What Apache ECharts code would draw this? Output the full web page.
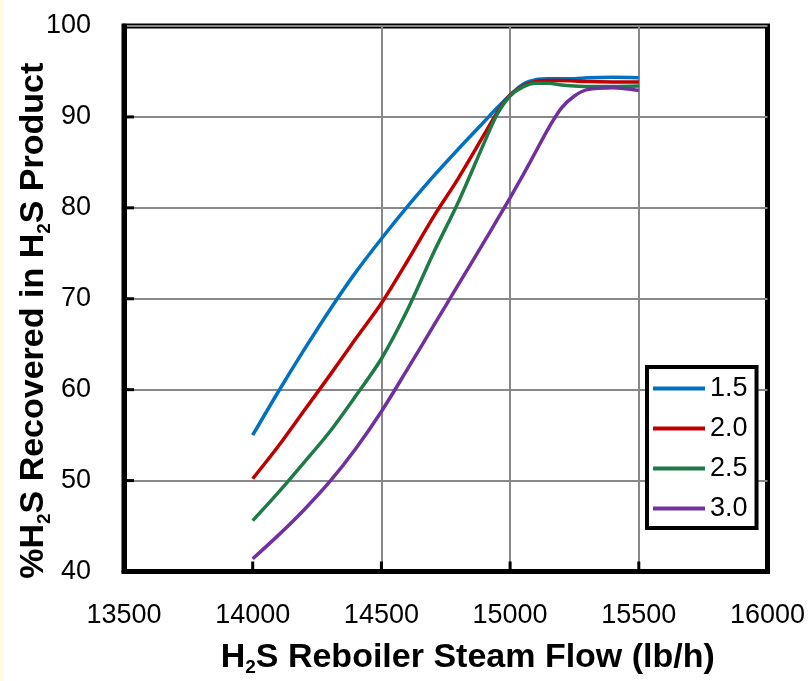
<!DOCTYPE html>
<html>
<head>
<meta charset="utf-8">
<script src="https://cdn.jsdelivr.net/npm/echarts@6/dist/echarts.min.js"></script>
<style>
  html, body { margin: 0; padding: 0; background: #fff; }
  #main { width: 812px; height: 681px; }
</style>
</head>
<body>
<div id="main"></div>
<script>
// steam flow (lb/h) where the curves were read
const flow = [14000, 14100, 14200, 14300, 14400, 14500, 14600, 14700, 14800, 14900,
  14950, 15000, 15050, 15100, 15150, 15200, 15250, 15300, 15400, 15500];

// % H2S recovered, one list per legend entry
const r15 = [55.0, 59.8, 64.4, 68.8, 72.9, 76.6, 80.1, 83.4, 86.5, 89.5,
  91.0, 92.4, 93.6, 94.1, 94.2, 94.2, 94.2, 94.3, 94.35, 94.3];
const r20 = [50.2, 53.8, 57.7, 61.6, 65.6, 69.5, 74.1, 78.9, 83.3, 88.1,
  90.5, 92.4, 93.4, 93.9, 94.0, 94.0, 93.95, 93.9, 93.85, 93.85];
const r25 = [45.6, 48.7, 52.0, 55.4, 59.3, 63.4, 68.7, 74.9, 80.7, 87.2,
  90.3, 92.3, 93.3, 93.7, 93.7, 93.5, 93.4, 93.35, 93.35, 93.4];
const r30 = [41.4, 44.0, 46.8, 49.9, 53.5, 57.6, 62.2, 66.9, 71.6, 76.3,
  78.7, 81.1, 83.6, 86.2, 88.8, 91.0, 92.3, 93.0, 93.2, 92.9];

const seriesNames = ['1.5', '2.0', '2.5', '3.0'];
const seriesColors = ['#0070C0', '#C00000', '#1E7B45', '#7030A0'];
const seriesValues = [r15, r20, r25, r30];

// inner tick marks on the bottom and left axes
const xTicks = [14000, 14500, 15000, 15500];
const yTicks = [50, 60, 70, 80, 90];

const chart = echarts.init(document.getElementById('main'));

const font = 'Liberation Sans, Arial, sans-serif';

// bold title text with a subscript "2"
const titleRich = {
  n: { fontFamily: font, fontSize: 34, fontWeight: 'bold', color: '#000', lineHeight: 40 },
  s: { fontFamily: font, fontSize: 19, fontWeight: 'bold', color: '#000', lineHeight: 19, verticalAlign: 'bottom' }
};

// [x, y, 0 = tick on x axis / 1 = tick on y axis]
const tickData = xTicks.map(v => [v, 40, 0]).concat(yTicks.map(v => [13500, v, 1]));

const lineSeries = seriesNames.map((name, i) => ({
  name: name,
  type: 'line',
  smooth: 0.3,
  symbol: 'none',
  color: seriesColors[i],
  lineStyle: { width: 3.5, color: seriesColors[i] },
  data: flow.map((x, j) => [x, seriesValues[i][j]])
}));

const option = {
  backgroundColor: '#fff',
  animation: false,
  graphic: [{
    type: 'rect',
    shape: { x: 0, y: 0, width: 4, height: 681 },
    style: { fill: '#fffbe3' }
  }],
  grid: {
    left: 124, right: 44.5, top: 26, bottom: 109.5,
    outerBoundsMode: 'none',
    containLabel: false,
    show: true,
    borderColor: '#000',
    borderWidth: 5,
    backgroundColor: 'transparent'
  },
  legend: {
    orient: 'vertical',
    left: 647,
    top: 367,
    padding: [8, 9, 6, 6],
    itemWidth: 52,
    itemHeight: 4,
    itemGap: 13,
    icon: 'rect',
    borderColor: '#000',
    borderWidth: 4,
    backgroundColor: '#fff',
    textStyle: { fontFamily: font, fontSize: 27, color: '#000', lineHeight: 26 },
    data: seriesNames
  },
  xAxis: {
    type: 'value',
    min: 13500,
    max: 16000,
    interval: 500,
    name: '{n|H}{s|2}{n|S Reboiler Steam Flow (lb/h)}',
    nameLocation: 'middle',
    nameGap: 66,
    nameMoveOverlap: false,
    nameTextStyle: { rich: titleRich, padding: [0, 0, 0, 44] },
    axisLine: { show: true, lineStyle: { color: '#000', width: 5 } },
    axisTick: { show: false },
    axisLabel: { fontFamily: font, fontSize: 27, color: '#000', margin: 31, formatter: v => String(v) },
    splitLine: {
      show: true,
      lineStyle: { color: ['transparent', 'transparent', '#888', '#888', '#888', 'transparent'], width: 2 }
    }
  },
  yAxis: {
    type: 'value',
    min: 40,
    max: 100,
    interval: 10,
    name: '{n|%H}{s|2}{n|S Recovered in H}{s|2}{n|S Product}',
    nameLocation: 'middle',
    nameGap: 70,
    nameMoveOverlap: false,
    nameTextStyle: { rich: titleRich, padding: [0, 44, 0, 0] },
    axisLine: { show: true, lineStyle: { color: '#000', width: 5 } },
    axisTick: { show: false },
    axisLabel: { fontFamily: font, fontSize: 27, color: '#000', margin: 33 },
    splitLine: { show: true, lineStyle: { color: '#888', width: 2 } }
  },
  series: lineSeries.concat([{
    type: 'custom',
    name: 'ticks',
    silent: true,
    clip: false,
    z: 5,
    data: tickData,
    renderItem: function (params, api) {
      const p = api.coord([api.value(0), api.value(1)]);
      const onX = api.value(2) === 0;
      return {
        type: 'line',
        shape: onX
          ? { x1: p[0], y1: p[1], x2: p[0], y2: p[1] - 10 }
          : { x1: p[0], y1: p[1], x2: p[0] + 10, y2: p[1] },
        style: { stroke: '#000', lineWidth: 3 }
      };
    }
  }])
};

chart.setOption(option);
</script>
</body>
</html>
